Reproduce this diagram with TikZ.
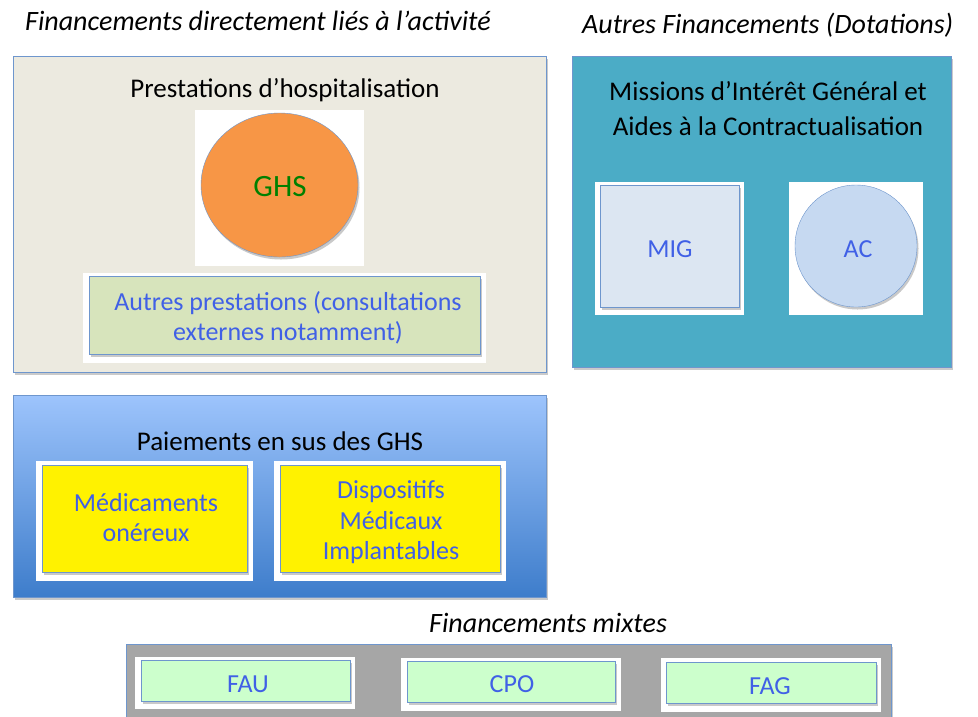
\documentclass[tikz,border=0pt]{standalone}
\usepackage{fontspec}
\setmainfont{Carlito}
\usetikzlibrary{shadows,shapes.geometric}
\definecolor{beige}{RGB}{236,234,224}
\definecolor{teal}{RGB}{75,172,198}
\definecolor{bord}{RGB}{110,150,205}
\definecolor{orng}{RGB}{247,150,70}
\definecolor{txtblue}{RGB}{64,96,230}
\definecolor{ghsgreen}{RGB}{0,128,0}
\definecolor{lgreen}{RGB}{215,228,188}
\definecolor{mint}{RGB}{204,255,204}
\definecolor{migblue}{RGB}{220,230,242}
\definecolor{acblue}{RGB}{198,217,241}
\definecolor{gtop}{RGB}{157,196,252}
\definecolor{gbot}{RGB}{62,125,203}
\definecolor{grey}{RGB}{166,166,166}
\tikzset{
  shd/.style={drop shadow={shadow xshift=1.5pt,shadow yshift=-2.5pt,opacity=0.35,fill=black!60}},
  bigbox/.style={draw=bord,line width=0.8pt,shd},
  whitebg/.style={fill=white,draw=none},
  title/.style={font=\fontsize{28}{32}\selectfont\itshape,inner sep=0pt},
  head/.style={font=\fontsize{27}{35}\selectfont,align=center,inner sep=0pt},
  inner/.style={draw=bord,line width=0.8pt,shd},
  btxt/.style={text=txtblue,font=\fontsize{26}{30.5}\selectfont,align=center,inner sep=0pt}
}
\begin{document}
\begin{tikzpicture}[x=1pt,y=-1pt]
\useasboundingbox (0,0) rectangle (978,716);
% titles
\node[title,anchor=base west] (t1) at (25,30) {Financements directement liés à l’activité};
\node[title,anchor=base west] (t2) at (582,33) {Autres Financements (Dotations)};
% box 1
\draw[bigbox,fill=beige] (13,56) rectangle (546,372);
\node[head,anchor=base] (p1) at (285,97) {Prestations d’hospitalisation};
\fill[whitebg] (195,110) rectangle (364,266);
\node[ellipse,draw=bord,fill=orng,minimum width=157pt,minimum height=144pt,shd,inner sep=0pt] (ghs) at (279.5,185) {};
\node[text=ghsgreen,font=\fontsize{31}{34}\selectfont,anchor=base,inner sep=0pt] (ghst) at (280,196) {GHS};
\fill[whitebg] (83,273) rectangle (486,363);
\node[inner,fill=lgreen,minimum width=391pt,minimum height=78pt,anchor=north west] (ap) at (89,276) {};
\node[btxt] (apt) at (288,318) {Autres prestations (consultations\\externes notamment)};
% box 2
\draw[bigbox,fill=teal] (572,56) rectangle (951,367);
\node[head] (p2) at (768,109) {Missions d’Intérêt Général et\\Aides à la Contractualisation};
\fill[whitebg] (595,182) rectangle (744,315);
\node[inner,fill=migblue,minimum width=139pt,minimum height=122pt,anchor=north west] (mig) at (600,185) {};
\node[btxt,anchor=base] at (670,257) {MIG};
\fill[whitebg] (789,182) rectangle (923,315);
\node[circle,draw=bord,fill=acblue,minimum size=122pt,inner sep=0pt,shd] (ac) at (856,246) {};
\node[btxt,anchor=base] at (858,257) {AC};
% box 3
\draw[bigbox,top color=gtop,bottom color=gbot] (13,395) rectangle (546,597);
\node[head,anchor=base] (p3) at (280,450) {Paiements en sus des GHS};
\fill[whitebg] (36,461) rectangle (253,581);
\node[inner,fill=yellow,minimum width=205pt,minimum height=107pt,anchor=north west] (med) at (42,465) {};
\node[btxt] at (146,517.5) {Médicaments\\onéreux};
\fill[whitebg] (274,461) rectangle (506,581);
\node[inner,fill=yellow,minimum width=220pt,minimum height=107pt,anchor=north west] (dmi) at (280,465) {};
\node[btxt] at (391,522.5) {Dispositifs\\Médicaux\\Implantables};
% mixtes
\node[title,anchor=base west] (t3) at (429,632) {Financements mixtes};
\draw[bigbox,fill=grey] (126,644) rectangle (891,722);
\fill[whitebg] (135,657) rectangle (355,709);
\node[inner,fill=mint,minimum width=209pt,minimum height=41pt,anchor=north west] (fau) at (141,660) {};
\node[btxt,anchor=base] at (248,692) {FAU};
\fill[whitebg] (401,658) rectangle (621,711);
\node[inner,fill=mint,minimum width=208pt,minimum height=41pt,anchor=north west] (cpo) at (407,661) {};
\node[btxt,anchor=base] at (512,692) {CPO};
\fill[whitebg] (661,658) rectangle (881,712);
\node[inner,fill=mint,minimum width=210pt,minimum height=41pt,anchor=north west] (fag) at (666,662) {};
\node[btxt,anchor=base] at (770,694) {FAG};
\end{tikzpicture}
\end{document}
